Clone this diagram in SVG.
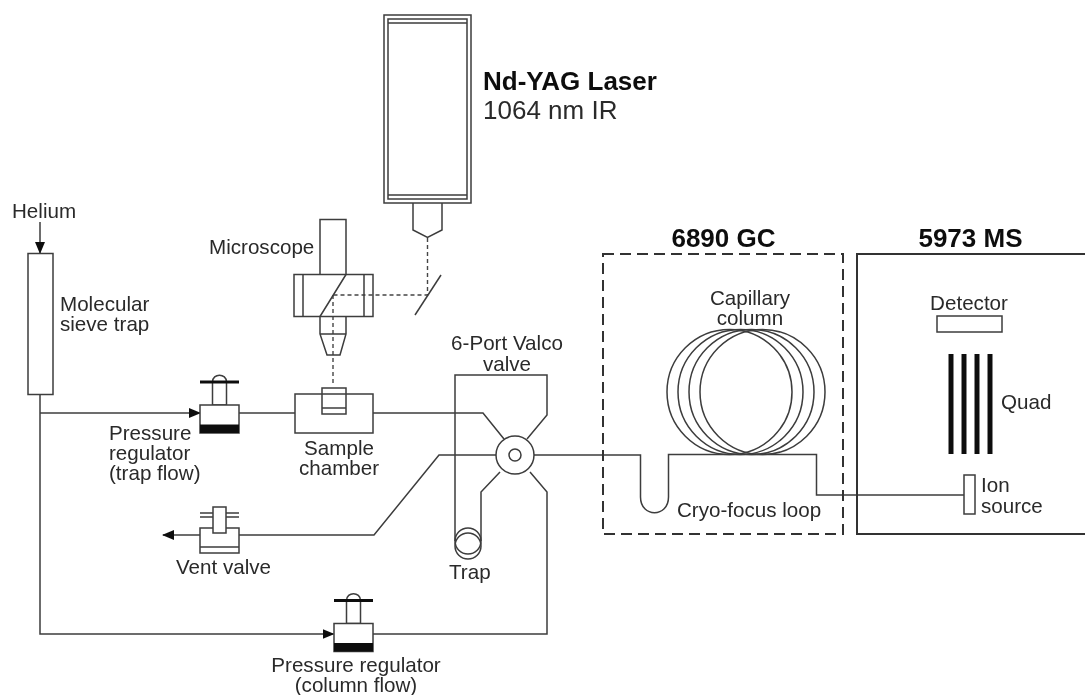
<svg xmlns="http://www.w3.org/2000/svg" width="1085" height="695" viewBox="0 0 1085 695">
<style>
text{font-family:"Liberation Sans",Arial,sans-serif;font-size:20.6px;fill:#2a2a2a}
.b{font-weight:bold;fill:#111}
.h{font-size:26px}
.m{text-anchor:middle}
.s,.s *{fill:none;stroke:#3c3c3c;stroke-width:1.5}
.d{fill:none;stroke:#444;stroke-width:1.4;stroke-dasharray:4 3}
.k{fill:#111;stroke:none}
.w{fill:#fff;stroke:#3c3c3c;stroke-width:1.5}
</style>
<defs>
<filter id="soft" x="0" y="0" width="100%" height="100%" filterUnits="objectBoundingBox"><feGaussianBlur stdDeviation="0.45"/></filter>
<marker id="arr" viewBox="0 0 12 10" refX="11" refY="5" markerWidth="12" markerHeight="10" markerUnits="userSpaceOnUse" orient="auto"><path d="M0 0L12 5L0 10Z" fill="#111"/></marker>
<g id="regulator">
<path class="w" d="M-7 -8C-7 -17 7 -17 7 -8"/>
<rect class="w" x="-7" y="-8" width="14" height="23"/>
<rect class="k" x="-19.500" y="-9.500" width="39" height="3"/>
<rect class="w" x="-19.500" y="15" width="39" height="28"/>
<rect class="k" x="-19.500" y="34.500" width="39" height="8.500"/>
</g>
</defs>
<rect width="1085" height="695" fill="#fff"/>
<g filter="url(#soft)">
<rect width="1085" height="695" fill="#fff"/>

<g id="connectors" class="s">
<path d="M40 222V253" marker-end="url(#arr)"/>
<path d="M40 394V634H333.500" marker-end="url(#arr)"/>
<path d="M40 413H200" marker-end="url(#arr)"/>
<path d="M239 413H295"/>
<path d="M373 413H483L504 439"/>
<path d="M527 439L547 415V375H455V541"/>
<path d="M496 455H439L374 535H239"/>
<path d="M200 535H163" marker-end="url(#arr)"/>
<path d="M500 472L481 492V541"/>
<path d="M530 472L547 492V634H373"/>
<path d="M534 455H640.500V497C640.500 518 668.500 518 668.500 497V454.500H816.500V495H964"/>
<path class="d" d="M427.500 238V295H333" style="stroke-dasharray:4 3"/>
<path class="d" d="M333 295V384" style="stroke-dasharray:4 3"/>
</g>

<g id="laser" class="s">
<rect x="384" y="15" width="87" height="188"/>
<rect x="388" y="19" width="79" height="180"/>
<path d="M388 23H467M388 195H467"/>
<path d="M413 203V230L427.500 237.500L442 230V203"/>
<path d="M415 315L441 275"/>
</g>
<text class="b h" x="483" y="90">Nd-YAG Laser</text>
<text class="h" x="483" y="119">1064 nm IR</text>

<g id="helium"><text x="12" y="218">Helium</text></g>

<g id="sieve-trap">
<rect class="w" x="28" y="253.500" width="25" height="141"/>
<text x="60" y="311">Molecular</text>
<text x="60" y="331">sieve trap</text>
</g>

<g id="microscope" class="s">
<path d="M320 274V219.500H346V274"/>
<rect x="294" y="274.500" width="79" height="42"/>
<path d="M303 274.500V316.500M364 274.500V316.500M346 274.500L320 316.500"/>
<path d="M320 316.500V334L327 355H340L346 334V316.500M320 334H346"/>
</g>
<text x="209" y="254">Microscope</text>

<g id="regulator-trap"><use href="#regulator" transform="translate(219.500 390)"/>
<text x="109" y="440">Pressure</text><text x="109" y="460">regulator</text><text x="109" y="480">(trap flow)</text></g>

<g id="sample-chamber" class="s">
<rect x="295" y="394" width="78" height="39"/>
<rect x="322" y="388" width="24" height="26"/>
<path d="M322 408H346"/>
</g>
<text class="m" x="339" y="455">Sample</text>
<text class="m" x="339" y="475">chamber</text>

<g id="valve">
<circle class="w" cx="515" cy="455" r="19"/>
<circle class="w" cx="515" cy="455" r="6"/>
<text class="m" x="507" y="350">6-Port Valco</text>
<text class="m" x="507" y="371">valve</text>
</g>

<g id="trap" class="s">
<circle cx="468" cy="541" r="13"/>
<circle cx="468" cy="546" r="13"/>
</g>
<text x="449" y="579">Trap</text>

<g id="vent-valve">
<rect class="w" x="200" y="528" width="39" height="25"/>
<path class="s" d="M200 547H239M200 513H239M200 517H239"/>
<rect class="w" x="213" y="507" width="13" height="26"/>
<text x="176" y="574">Vent valve</text>
</g>

<g id="regulator-column"><use href="#regulator" transform="translate(353.500 608.500)"/>
<text class="m" x="356" y="672">Pressure regulator</text>
<text class="m" x="356" y="692">(column flow)</text></g>

<g id="gc">
<rect x="603" y="254" width="240" height="280" fill="none" stroke="#333" stroke-width="2" stroke-dasharray="11 6"/>
<text class="b h m" x="723.500" y="247">6890 GC</text>
<g class="s">
<circle cx="729.500" cy="392" r="62.500"/>
<circle cx="740.500" cy="392" r="62.500"/>
<circle cx="751.500" cy="392" r="62.500"/>
<circle cx="762.500" cy="392" r="62.500"/>
</g>
<text class="m" x="750" y="305">Capillary</text>
<text class="m" x="750" y="325">column</text>
<text x="677" y="517">Cryo-focus loop</text>
</g>

<g id="ms">
<path d="M1085 254H857V534H1085" fill="none" stroke="#333" stroke-width="2"/>
<text class="b h m" x="970.500" y="247">5973 MS</text>
<text class="m" x="969" y="310">Detector</text>
<rect class="w" x="937" y="316" width="65" height="16"/>
<rect class="k" x="948.500" y="354" width="5" height="100"/>
<rect class="k" x="961.500" y="354" width="5" height="100"/>
<rect class="k" x="974.500" y="354" width="5" height="100"/>
<rect class="k" x="987.500" y="354" width="5" height="100"/>
<text x="1001" y="409">Quad</text>
<rect class="w" x="964" y="475" width="11" height="39"/>
<text x="981" y="492">Ion</text>
<text x="981" y="513">source</text>
</g>
</g>
</svg>
